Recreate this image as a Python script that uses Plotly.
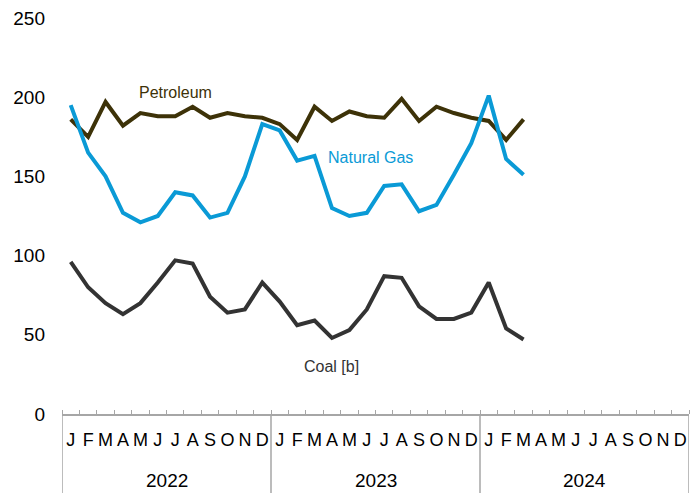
import plotly.graph_objects as go

months = ["J", "F", "M", "A", "M", "J", "J", "A", "S", "O", "N", "D"]
years = ["2022", "2023", "2024"]

petroleum = [186, 175, 197, 182, 190, 188, 188, 194, 187, 190, 188, 187,
             183, 173, 194, 185, 191, 188, 187, 199, 185, 194, 190, 187,
             185, 173, 186]
natural_gas = [195, 165, 150, 127, 121, 125, 140, 138, 124, 127, 150, 183,
               179, 160, 163, 130, 125, 127, 144, 145, 128, 132, 151, 171,
               201, 161, 151]
coal = [96, 80, 70, 63, 70, 83, 97, 95, 74, 64, 66, 83,
        71, 56, 59, 48, 53, 66, 87, 86, 68, 60, 60, 64,
        83, 54, 47]

font_family = "Liberation Sans, Arial, sans-serif"

n_total = len(months) * len(years)
x_idx = list(range(n_total))

fig = go.Figure()
series = [
    ("Petroleum", petroleum, "#3d3208"),
    ("Natural Gas", natural_gas, "#0a9ad6"),
    ("Coal [b]", coal, "#333333"),
]
for name, vals, color in series:
    fig.add_trace(go.Scatter(x=x_idx[:len(vals)], y=vals, mode="lines", name=name,
                             line=dict(color=color, width=4), showlegend=False))

# Labels near lines
fig.add_annotation(x=6, y=203, text="Petroleum", showarrow=False,
                   font=dict(color="#3d3208", size=16, family=font_family))
fig.add_annotation(x=17.2, y=162, text="Natural Gas", showarrow=False,
                   font=dict(color="#0a9ad6", size=16, family=font_family))
fig.add_annotation(x=14.95, y=30, text="Coal [b]", showarrow=False,
                   font=dict(color="#333333", size=16, family=font_family))

plot_h = 493 - 18 - 79
ext = (493 - 414) / plot_h
# Year separators
for k in range(len(years) + 1):
    xv = k * 12 - 0.5
    fig.add_shape(type="line", xref="x", yref="paper", x0=xv, x1=xv, y0=0, y1=-ext,
                  line=dict(color="#a6a6a6", width=1.5))
# Year labels
for k, yr in enumerate(years):
    fig.add_annotation(x=k * 12 + 5.5, xref="x", y=-66 / plot_h, yref="paper",
                       text=yr, showarrow=False, yanchor="middle",
                       font=dict(size=19, color="#000000", family=font_family))

fig.update_layout(
    width=698, height=493,
    margin=dict(l=62, r=9, t=18, b=79),
    paper_bgcolor="white", plot_bgcolor="white",
    font=dict(family=font_family, size=19, color="#000000"),
    xaxis=dict(
        range=[-0.5, n_total - 0.5],
        tickmode="array",
        tickvals=x_idx,
        ticktext=months * len(years),
        ticks="",
        automargin=False,
        showgrid=False, zeroline=False,
        showline=True, linecolor="#a6a6a6", linewidth=1.5,
        tickfont=dict(size=18, family=font_family),
        ticklabelstandoff=9,
        minor=dict(tickmode="array", tickvals=[i - 0.5 for i in range(n_total + 1)],
                   ticks="inside", ticklen=4, tickcolor="#a6a6a6", tickwidth=1,
                   showgrid=False),
        fixedrange=True,
    ),
    yaxis=dict(
        range=[0, 250],
        tickvals=[0, 50, 100, 150, 200, 250],
        showgrid=False, zeroline=False, showline=False,
        automargin=False,
        ticks="", ticklabelstandoff=16,
        tickfont=dict(size=19, family=font_family),
        fixedrange=True,
    ),
)

fig.write_html("out.html",
               config={"displayModeBar": False, "staticPlot": True},
               post_script="document.body.style.margin='0';document.body.style.overflow='hidden';")
